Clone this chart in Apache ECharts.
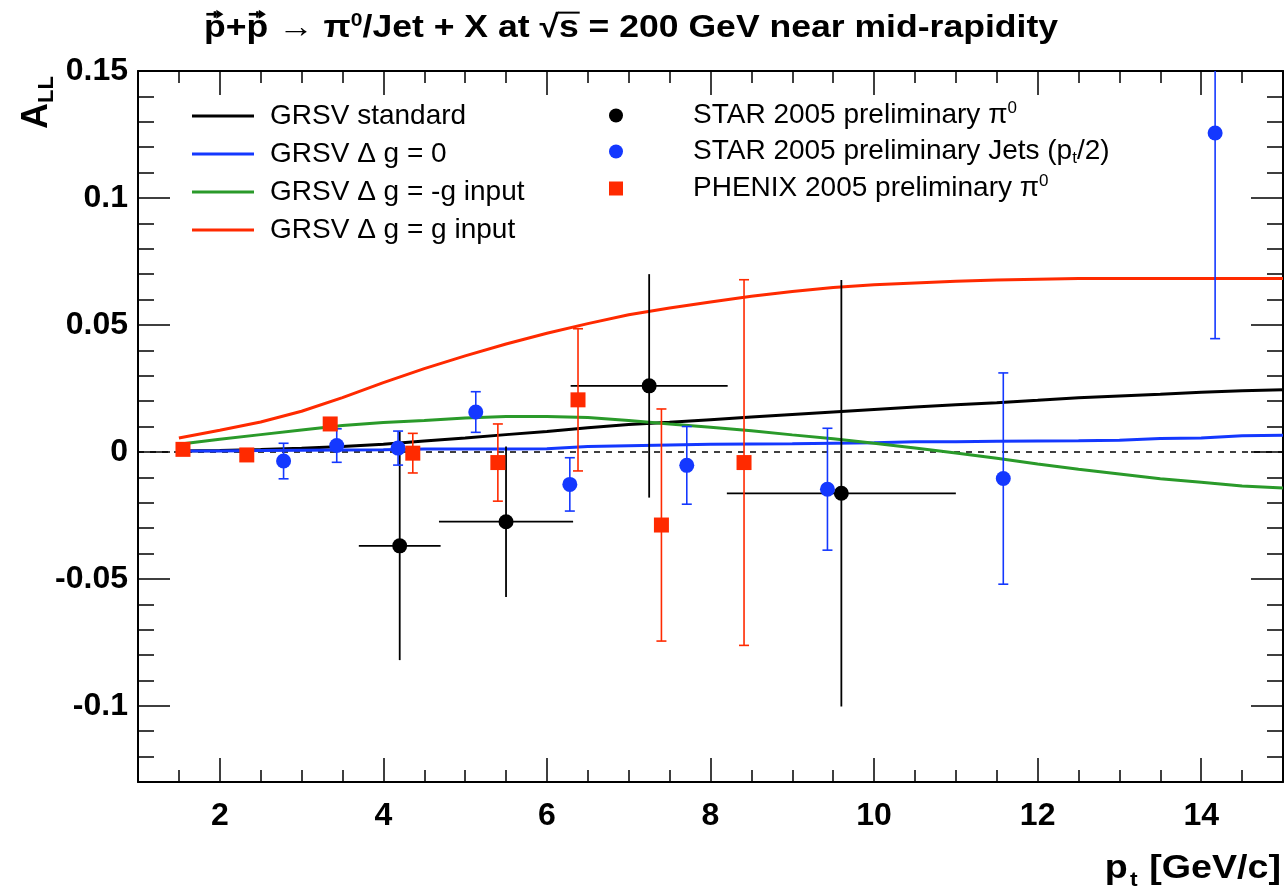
<!DOCTYPE html>
<html><head><meta charset="utf-8">
<script src="https://cdn.jsdelivr.net/npm/echarts@6/dist/echarts.min.js"></script>
<style>html,body{margin:0;padding:0;background:#fff}#c{width:1286px;height:894px}</style>
</head><body><div id="c"></div>
<script>
// ---- data ----
const curveX   = [1.5,2,2.5,3,3.5,4,4.5,5,5.5,6,6.5,7,7.5,8,8.5,9,9.5,10,10.5,11,11.5,12,12.5,13,13.5,14,14.5,15];
const grsvStd  = [0.0004,0.0005,0.0009,0.0014,0.0021,0.003,0.0043,0.0055,0.0068,0.008,0.0095,0.0108,0.0117,0.0127,0.0137,0.0147,0.0157,0.0167,0.0177,0.0186,0.0194,0.0203,0.0213,0.022,0.0227,0.0235,0.0241,0.0245];
const grsvZero = [0.0004,0.0004,0.0005,0.0006,0.0007,0.0008,0.0011,0.0011,0.0011,0.0012,0.0021,0.0024,0.0027,0.003,0.0031,0.0032,0.0034,0.0036,0.004,0.004,0.0042,0.0043,0.0044,0.0046,0.0053,0.0055,0.0064,0.0066];
const grsvNeg  = [0.003,0.005,0.0068,0.0086,0.0104,0.0116,0.0124,0.0133,0.0139,0.0139,0.0135,0.0124,0.011,0.0097,0.0083,0.0067,0.0052,0.0034,0.0015,-0.0004,-0.0025,-0.0048,-0.0068,-0.0087,-0.0106,-0.012,-0.0134,-0.0142];
const grsvPos  = [0.0055,0.0085,0.0118,0.016,0.0214,0.0273,0.0328,0.0378,0.0425,0.0467,0.0505,0.054,0.0567,0.059,0.0613,0.0632,0.0647,0.0658,0.0665,0.0672,0.0677,0.068,0.0683,0.0683,0.0683,0.0683,0.0683,0.0683];

const starPi0X    = [4.2, 5.5, 7.25, 9.6];
const starPi0Y    = [-0.037, -0.0275, 0.026, -0.0163];
const starPi0YErr = [0.045, 0.0296, 0.044, 0.084];
const starPi0XErr = [0.5, 0.82, 0.96, 1.4];

const jetsX    = [2.78, 3.43, 4.18, 5.13, 6.28, 7.71, 9.43, 11.58, 14.17];
const jetsY    = [-0.0036, 0.0025, 0.0015, 0.0157, -0.0128, -0.0053, -0.0147, -0.0105, 0.1256];
const jetsYErr = [0.007, 0.0066, 0.0067, 0.008, 0.0105, 0.0153, 0.024, 0.0416, 0.081];

const phenixX    = [1.55, 2.33, 3.35, 4.36, 5.40, 6.38, 7.40, 8.41];
const phenixY    = [0.001, -0.0012, 0.011, -0.0005, -0.0042, 0.0205, -0.0288, -0.0042];
const phenixYErr = [0.001, 0.0015, 0.002, 0.0078, 0.0152, 0.028, 0.0457, 0.072];

const xMajor = [2,4,6,8,10,12,14];
const yMajor = [-0.1,-0.05,0,0.05,0.1,0.15];
const xMin = 1, xMax = 15, yMin = -0.13, yMax = 0.15;

const lineNames = ['GRSV standard','GRSV \u0394 g = 0','GRSV \u0394 g = -g input','GRSV \u0394 g = g input'];
const pointNames = ['STAR pi0','STAR jets','PHENIX pi0'];
const pointLabels = ['STAR 2005 preliminary \u03c0{sup|0}','STAR 2005 preliminary Jets (p{sub|t}/2)','PHENIX 2005 preliminary \u03c0{sup|0}'];

// ---- styles ----
const FF = 'Liberation Sans, Arial, Helvetica, sans-serif';
const BLACK = '#000000', BLUE = '#1438ff', GREEN = '#2a9a2a', RED = '#ff2a00';

const zip = (xs, ys) => xs.map((x, i) => [x, ys[i]]);

// text measuring for title decorations
const mctx = document.createElement('canvas').getContext('2d');
function tw(s, size) { mctx.font = 'bold ' + size + 'px "Liberation Sans"'; return mctx.measureText(s).width; }

function makeErr(color, cap, lw, hasX) {
  return function (params, api) {
    const x = api.value(0), y = api.value(1), ey = api.value(2);
    const hi = Math.min(y + ey, yMax), lo = Math.max(y - ey, yMin);
    const p1 = api.coord([x, hi]), p2 = api.coord([x, lo]);
    const st = {stroke: color, lineWidth: lw};
    const ch = [{type: 'line', shape: {x1: p1[0], y1: p1[1], x2: p2[0], y2: p2[1]}, style: st}];
    if (cap > 0) {
      if (y + ey <= yMax) ch.push({type: 'line', shape: {x1: p1[0] - cap / 2, y1: p1[1], x2: p1[0] + cap / 2, y2: p1[1]}, style: st});
      if (y - ey >= yMin) ch.push({type: 'line', shape: {x1: p2[0] - cap / 2, y1: p2[1], x2: p2[0] + cap / 2, y2: p2[1]}, style: st});
    }
    if (hasX) {
      const ex = api.value(3);
      const l = api.coord([x - ex, y]), r = api.coord([x + ex, y]);
      ch.push({type: 'line', shape: {x1: l[0], y1: l[1], x2: r[0], y2: r[1]}, style: st});
    }
    return {type: 'group', children: ch};
  };
}

const tickStyle = {color: '#000', width: 1.5};
function xAx(pos, major) {
  const a = {type: 'value', min: xMin, max: xMax, position: pos, splitLine: {show: false},
    axisLine: {show: major, onZero: false, lineStyle: {color: '#000', width: 2}},
    axisTick: {show: true, inside: true, length: major ? 24 : 12, lineStyle: tickStyle},
    axisLabel: {show: false}};
  if (major) {
    a.axisTick.customValues = xMajor;
    if (pos === 'bottom') a.axisLabel = {show: true, customValues: xMajor, fontSize: 32, fontWeight: 'bold', fontFamily: FF, color: '#000', margin: 18};
  } else a.interval = 0.5;
  return a;
}
function yAx(pos, major) {
  const a = {type: 'value', min: yMin, max: yMax, position: pos, splitLine: {show: false},
    axisLine: {show: major, onZero: false, lineStyle: {color: '#000', width: 2}},
    axisTick: {show: true, inside: true, length: major ? 32 : 16, lineStyle: tickStyle},
    axisLabel: {show: false}};
  if (major) {
    a.axisTick.customValues = yMajor;
    if (pos === 'left') a.axisLabel = {show: true, customValues: yMajor, fontSize: 32, fontWeight: 'bold', fontFamily: FF, color: '#000', margin: 10};
  } else a.interval = 0.01;
  return a;
}

// ---- title geometry ----
const T_SIZE = 32, T_SUP = 19, T_X = 204, T_W = 854, T_MID = 28;
const tA = 'p+p \u2192 \u03c0', tB = '/Jet + X at \u221as = 200 GeV near mid-rapidity';
const tTotal = tw(tA, T_SIZE) + tw('0', T_SUP) + tw(tB, T_SIZE);
const tScale = T_W / tTotal;
const pw = tw('p', T_SIZE), ppw = tw('p+', T_SIZE);
const arrowCx = [T_X + tScale * pw / 2, T_X + tScale * (ppw + pw / 2)];
const sqrtEnd = T_X + tScale * (tw(tA, T_SIZE) + tw('0', T_SUP) + tw('/Jet + X at \u221a', T_SIZE));
const sEnd = sqrtEnd + tScale * tw('s', T_SIZE);
const tBase = T_MID + 0.31 * T_SIZE;

function arrow(cx) {
  const y = tBase - 0.74 * T_SIZE, half = 8.5;
  return [
    {type: 'line', shape: {x1: cx - half, y1: y, x2: cx + half - 4, y2: y}, style: {stroke: '#000', lineWidth: 2.6}},
    {type: 'polygon', shape: {points: [[cx + half, y], [cx + half - 7, y - 4.5], [cx + half - 7, y + 4.5]]}, style: {fill: '#000'}},
    {type: 'line', shape: {x1: cx, y1: y - 3, x2: cx, y2: y + 3.5}, style: {stroke: '#000', lineWidth: 2.4}}
  ];
}

const chart = echarts.init(document.getElementById('c'), null, {renderer: 'canvas'});
const lineColors = [BLACK, BLUE, GREEN, RED];
const lineData = [grsvStd, grsvZero, grsvNeg, grsvPos];

const series = [];
lineData.forEach((d, i) => {
  const s = {name: lineNames[i], type: 'line', data: zip(curveX, d), showSymbol: false, symbol: 'none',
    color: lineColors[i], lineStyle: {color: lineColors[i], width: 3}, z: 2 + i * 0.01, silent: true};
  if (i === 0) s.markLine = {silent: true, symbol: 'none', label: {show: false},
    lineStyle: {color: '#000', width: 1.5, type: [6, 6]}, data: [{yAxis: 0}], z: 1};
  series.push(s);
});
series.push({name: 'e1', type: 'custom', clip: true, z: 3, renderItem: makeErr(BLACK, 0, 1.8, true),
  data: starPi0X.map((x, i) => [x, starPi0Y[i], starPi0YErr[i], starPi0XErr[i]]), encode: {x: 0, y: 1}});
series.push({name: 'e2', type: 'custom', clip: true, z: 3, renderItem: makeErr(BLUE, 10, 1.6, false),
  data: jetsX.map((x, i) => [x, jetsY[i], jetsYErr[i]]), encode: {x: 0, y: 1}});
series.push({name: 'e3', type: 'custom', clip: true, z: 3, renderItem: makeErr(RED, 10, 1.6, false),
  data: phenixX.map((x, i) => [x, phenixY[i], phenixYErr[i]]), encode: {x: 0, y: 1}});
series.push({name: pointNames[0], type: 'scatter', symbol: 'circle', symbolSize: 15, color: BLACK, itemStyle: {opacity: 1}, z: 4, data: zip(starPi0X, starPi0Y)});
series.push({name: pointNames[1], type: 'scatter', symbol: 'circle', symbolSize: 15, color: BLUE, itemStyle: {opacity: 1}, z: 4, data: zip(jetsX, jetsY)});
series.push({name: pointNames[2], type: 'scatter', symbol: 'rect', symbolSize: 15, color: RED, itemStyle: {opacity: 1}, z: 4, data: zip(phenixX, phenixY)});

const boldT = (size, extra) => Object.assign({fontSize: size, fontWeight: 'bold', fontFamily: FF, fill: '#000'}, extra || {});

const option = {
  animation: false,
  backgroundColor: '#fff',
  grid: {left: 138, right: 3, top: 71, bottom: 112, containLabel: false},
  xAxis: [xAx('bottom', true), xAx('bottom', false), xAx('top', true), xAx('top', false)],
  yAxis: [yAx('left', true), yAx('left', false), yAx('right', true), yAx('right', false)],
  legend: [
    {data: lineNames.map(n => ({name: n, icon: 'rect'})), orient: 'vertical', left: 192, top: 101, padding: 0,
      itemWidth: 62, itemHeight: 3, itemGap: 8, selectedMode: false,
      textStyle: {fontSize: 28, fontFamily: FF, color: '#000', lineHeight: 30, padding: [0, 0, 0, 11]}},
    {data: pointNames.map((n, i) => ({name: n, icon: i === 2 ? 'rect' : 'circle'})), orient: 'vertical', left: 609, top: 100, padding: 0,
      itemWidth: 14, itemHeight: 14, itemGap: 6, selectedMode: false,
      formatter: n => pointLabels[pointNames.indexOf(n)],
      textStyle: {fontSize: 28, fontFamily: FF, color: '#000', lineHeight: 30, padding: [0, 0, 0, 65],
        rich: {sup: {fontSize: 17, fontFamily: FF, color: '#000', padding: [0, 0, 14, 0]},
               sub: {fontSize: 17, fontFamily: FF, color: '#000', padding: [14, 0, 0, 0]}}}}
  ],
  graphic: [
    // main title (stretched bold text)
    {type: 'text', x: T_X, y: T_MID, scaleX: tScale,
      style: {text: 'p+p \u2192 \u03c0{sup|0}/Jet + X at \u221as = 200 GeV near mid-rapidity', align: 'left', verticalAlign: 'middle',
        fontSize: T_SIZE, fontWeight: 'bold', fontFamily: FF, fill: '#000',
        rich: {sup: boldT(T_SUP, {padding: [0, 0, 14, 0]})}}},
    ...arrow(arrowCx[0]), ...arrow(arrowCx[1]),
    {type: 'line', shape: {x1: sqrtEnd - 1, y1: tBase - 0.79 * T_SIZE, x2: sEnd + 1, y2: tBase - 0.79 * T_SIZE}, style: {stroke: '#000', lineWidth: 2}},
    // y axis title
    {type: 'text', x: 58, y: 76, rotation: Math.PI / 2,
      style: {text: '{a|A}{b|LL}', align: 'right', verticalAlign: 'bottom',
        rich: {a: boldT(36), b: boldT(22, {padding: [20, 0, 0, 0]})}}},
    // x axis title
    {type: 'text', x: 1281, y: 890, scaleX: 1.14,
      style: {text: '{p|p}{t|t}{r| [GeV/c]}', align: 'right', verticalAlign: 'bottom',
        rich: {p: boldT(33), t: boldT(20, {padding: [22, 1, 0, 2]}), r: boldT(33)}}}
  ],
  series: series
};
chart.setOption(option);
</script>
</body></html>
